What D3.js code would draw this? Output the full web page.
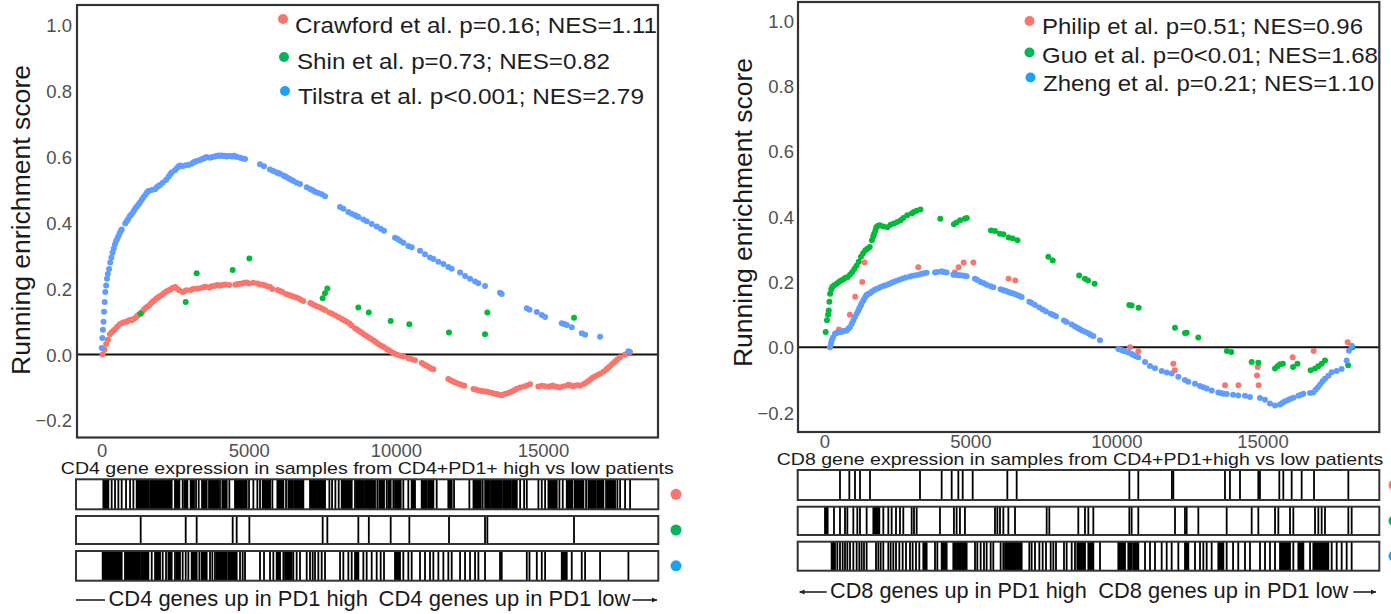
<!DOCTYPE html>
<html>
<head>
<meta charset="utf-8">
<script src="https://cdn.jsdelivr.net/npm/d3@7/dist/d3.min.js"></script>
<style>
  html, body { margin: 0; padding: 0; background: #fff; }
  svg { display: block; font-family: "Liberation Sans", Arial, sans-serif; }
</style>
</head>
<body>
<svg id="chart" width="1391" height="614"></svg>
<script>
// ---------- shared axis ticks ----------
const xTicks = [0, 5000, 10000, 15000];
const yTicks = [-0.2, 0, 0.2, 0.4, 0.6, 0.8, 1.0];

// ---------- CD4 panel ----------
const cd4Labels = ["Crawford et al. p=0.16; NES=1.11", "Shin et al. p=0.73; NES=0.82", "Tilstra et al. p<0.001; NES=2.79"];

// running enrichment score at each hit: [rank, score]
const crawfordES = [[30,0.0],[90,0.015],[150,0.032],[210,0.045],[280,0.062],[340,0.068],[400,0.072],[460,0.078],[530,0.085],[620,0.093],[700,0.096],[760,0.098],[840,0.1],[900,0.103],[960,0.105],[1020,0.104],[1076,0.108],[1150,0.112],[1210,0.118],[1260,0.121],[1320,0.125],[1380,0.13],[1440,0.137],[1500,0.142],[1560,0.146],[1620,0.15],[1680,0.156],[1740,0.161],[1800,0.165],[1860,0.17],[1920,0.174],[1980,0.177],[2040,0.181],[2100,0.185],[2160,0.189],[2220,0.192],[2280,0.195],[2340,0.198],[2400,0.202],[2500,0.205],[2560,0.2],[2639,0.195],[2752,0.19],[2820,0.192],[2880,0.195],[3030,0.196],[3100,0.199],[3206,0.2],[3297,0.201],[3410,0.203],[3470,0.205],[3540,0.206],[3660,0.204],[3720,0.207],[3800,0.208],[3880,0.21],[3950,0.211],[4021,0.209],[4110,0.211],[4200,0.213],[4339,0.211],[4540,0.212],[4620,0.214],[4700,0.215],[4780,0.216],[4860,0.218],[4928,0.219],[5008,0.216],[5155,0.218],[5291,0.216],[5382,0.213],[5480,0.212],[5560,0.21],[5640,0.207],[5722,0.205],[5801,0.199],[5980,0.196],[6060,0.193],[6140,0.19],[6266,0.184],[6350,0.182],[6430,0.179],[6510,0.176],[6600,0.174],[6700,0.17],[6780,0.166],[6854,0.163],[7090,0.157],[7170,0.153],[7250,0.149],[7330,0.146],[7420,0.143],[7500,0.139],[7591,0.135],[7739,0.128],[7830,0.124],[7943,0.119],[8056,0.113],[8158,0.108],[8240,0.104],[8330,0.1],[8420,0.094],[8498,0.088],[8611,0.08],[8680,0.076],[8760,0.071],[8840,0.066],[8920,0.061],[9000,0.056],[9080,0.052],[9160,0.047],[9240,0.043],[9300,0.039],[9369,0.034],[9440,0.03],[9520,0.026],[9596,0.022],[9687,0.017],[9760,0.013],[9823,0.009],[9913,0.005],[9980,0.002],[10060,-0.001],[10163,-0.004],[10253,-0.006],[10423,-0.011],[10540,-0.014],[10650,-0.017],[10880,-0.026],[10960,-0.03],[11040,-0.034],[11120,-0.038],[11200,-0.042],[11274,-0.045],[11783,-0.074],[11860,-0.078],[11940,-0.082],[12020,-0.085],[12100,-0.088],[12180,-0.09],[12260,-0.093],[12330,-0.095],[12637,-0.105],[12720,-0.106],[12800,-0.109],[12883,-0.11],[12950,-0.111],[13034,-0.112],[13110,-0.113],[13190,-0.115],[13270,-0.117],[13350,-0.119],[13430,-0.12],[13510,-0.122],[13590,-0.124],[13660,-0.121],[13740,-0.119],[13820,-0.117],[13900,-0.114],[13980,-0.111],[14050,-0.107],[14110,-0.104],[14223,-0.1],[14359,-0.097],[14450,-0.094],[14560,-0.09],[14844,-0.097],[14959,-0.095],[15072,-0.096],[15185,-0.098],[15260,-0.096],[15330,-0.094],[15400,-0.097],[15468,-0.098],[15558,-0.1],[15672,-0.097],[15808,-0.094],[15880,-0.092],[15950,-0.094],[16030,-0.096],[16110,-0.094],[16190,-0.093],[16260,-0.095],[16375,-0.09],[16465,-0.086],[16544,-0.08],[16620,-0.075],[16700,-0.07],[16780,-0.066],[16860,-0.062],[16940,-0.058],[17054,-0.052],[17145,-0.046],[17189,-0.042],[17260,-0.037],[17330,-0.031],[17400,-0.026],[17450,-0.021],[17529,-0.015],[17621,-0.008],[17791,0.0],[17961,0.008]];
const shinES = [[1325,0.125],[2855,0.16],[3228,0.247],[4452,0.257],[5019,0.292],[7511,0.171],[7590,0.186],[7670,0.201],[8724,0.143],[9080,0.128],[9823,0.102],[10457,0.092],[11806,0.067],[13030,0.062],[13109,0.128],[16055,0.112]];
const tilstraES = [[0,0.02],[20,0.05],[40,0.075],[60,0.1],[80,0.13],[100,0.16],[120,0.19],[150,0.21],[180,0.23],[210,0.245],[250,0.26],[290,0.28],[330,0.295],[370,0.31],[410,0.322],[450,0.335],[490,0.345],[530,0.352],[570,0.36],[610,0.368],[650,0.376],[679,0.38],[800,0.398],[850,0.405],[900,0.412],[950,0.42],[1000,0.425],[1050,0.43],[1100,0.438],[1150,0.445],[1200,0.45],[1250,0.456],[1302,0.462],[1360,0.47],[1420,0.478],[1480,0.485],[1540,0.492],[1586,0.497],[1700,0.5],[1813,0.502],[1870,0.508],[1930,0.512],[1983,0.515],[2073,0.522],[2186,0.53],[2270,0.54],[2330,0.548],[2378,0.553],[2491,0.56],[2550,0.566],[2610,0.571],[2661,0.574],[2752,0.572],[2855,0.575],[2945,0.576],[3060,0.58],[3120,0.584],[3180,0.586],[3228,0.588],[3319,0.59],[3400,0.593],[3460,0.596],[3520,0.598],[3568,0.6],[3681,0.598],[3761,0.6],[3851,0.602],[3910,0.603],[3970,0.605],[4030,0.604],[4090,0.605],[4150,0.603],[4210,0.604],[4248,0.602],[4310,0.603],[4370,0.603],[4430,0.602],[4490,0.604],[4540,0.602],[4588,0.601],[4701,0.598],[4792,0.596],[4871,0.594],[5381,0.578],[5517,0.572],[5721,0.562],[5834,0.558],[5948,0.553],[6010,0.551],[6062,0.549],[6175,0.544],[6232,0.542],[6300,0.538],[6380,0.534],[6458,0.53],[6514,0.527],[6627,0.522],[6741,0.518],[6968,0.508],[7081,0.503],[7172,0.499],[7251,0.495],[7364,0.491],[7478,0.487],[7591,0.481],[8101,0.448],[8214,0.443],[8384,0.433],[8498,0.428],[8611,0.423],[8680,0.42],[8724,0.418],[8894,0.41],[9007,0.405],[9177,0.397],[9347,0.389],[9483,0.382],[9596,0.376],[9970,0.355],[10060,0.351],[10140,0.346],[10253,0.34],[10423,0.33],[10537,0.326],[10820,0.315],[10990,0.305],[11160,0.295],[11274,0.29],[11444,0.282],[11614,0.275],[11783,0.266],[11897,0.261],[12181,0.249],[12351,0.239],[12521,0.23],[12691,0.222],[12804,0.217],[13030,0.208],[13540,0.188],[13597,0.184],[14450,0.141],[14541,0.136],[14790,0.129],[14959,0.12],[15072,0.114],[15638,0.095],[15720,0.093],[15808,0.09],[15978,0.083],[16318,0.065],[16431,0.06],[16941,0.054],[17904,0.01]];

// gene-set hit positions along the ranked list; [start, end] marks a dense run of hits
const crawfordHits = [[56,226],339,453,566,679,827,963,1076,[1188,1600],[1650,1950],[1990,2378],[2491,2639],2752,[2809,2911],[3024,3137],3206,3297,3410,[3455,3568],[3647,3965],4021,[4101,4248],4339,[4531,4928],5008,5155,5291,5382,[5473,5722],5801,[5971,6175],6266,[6345,6500],[6550,6700],[6740,6854],[7081,7300],[7350,7591],7739,7830,7943,8056,[8158,8498],8611,[8668,8900],[8950,9290],9369,[9437,9596],9687,[9743,9823],9913,[9970,10163],10253,10423,[10537,10650],[10877,11050],[11100,11274],11387,[11783,11897],11977,12497,[12637,12883],12950,[13034,13200],[13260,13600],[13650,13900],[13950,14110],14223,14359,14450,14844,14959,15072,[15185,15468],15558,15672,[15808,16000],[16080,16375],16465,[16544,16800],[16860,17054],17145,[17189,17450],17529,17621,17791,17961];
const shinHits = [1325,2855,3228,4452,4588,5019,7511,7670,8724,9080,9823,10457,11806,13030,13109,16055];
const tilstraHits = [[33,679],[792,1302],[1359,1586],1700,1813,[1870,1983],2073,2186,[2266,2378],2491,[2548,2661],2752,2855,2945,[3058,3228],3319,[3398,3568],3681,3761,3851,[3908,4248],[4305,4588],4701,4792,4871,5381,5517,5721,5834,[5948,6062],6175,[6232,6458],6514,6627,6741,6968,7081,7172,7251,7364,7478,7591,8101,8214,8384,8498,[8611,8724],8894,9007,9177,9347,9483,9596,[9970,10140],10253,10423,10537,10820,10990,11160,11274,11444,11614,11783,11897,12181,12351,12521,12691,12804,13030,13540,13597,14450,14541,14790,14959,15072,[15638,15808],15978,16318,16431,16941,17904];

// ---------- CD8 panel ----------
const cd8Labels = ["Philip et al. p=0.51; NES=0.96", "Guo et al. p=0<0.01; NES=1.68", "Zheng et al. p=0.21; NES=1.10"];

const philipES = [[500,0.055],[876,0.1],[1058,0.155],[1300,0.2],[1380,0.26],[3218,0.245],[4018,0.232],[4470,0.23],[4600,0.245],[4772,0.26],[5104,0.26],[6309,0.21],[6539,0.205],[10466,0.0],[10751,-0.012],[11948,-0.05],[12000,-0.07],[13717,-0.116],[14180,-0.116],[14813,-0.086],[14840,-0.06],[14870,-0.116],[16035,-0.03],[16754,-0.011],[17918,0.016]];
const guoES = [[47,0.047],[92,0.083],[130,0.1],[152,0.113],[175,0.14],[198,0.164],[240,0.178],[273,0.185],[340,0.19],[424,0.195],[500,0.2],[575,0.205],[650,0.208],[709,0.212],[801,0.215],[880,0.222],[952,0.23],[1030,0.24],[1103,0.25],[1180,0.262],[1254,0.277],[1330,0.288],[1405,0.297],[1480,0.302],[1556,0.307],[1632,0.328],[1680,0.34],[1707,0.348],[1750,0.358],[1783,0.368],[1840,0.372],[1903,0.374],[2021,0.37],[2160,0.368],[2270,0.375],[2386,0.379],[2500,0.384],[2613,0.389],[2705,0.396],[2839,0.404],[2991,0.41],[3065,0.414],[3162,0.418],[3292,0.422],[3971,0.394],[4438,0.377],[4530,0.382],[4650,0.389],[4815,0.394],[4877,0.396],[5707,0.358],[5843,0.356],[6009,0.348],[6130,0.346],[6311,0.336],[6450,0.333],[6613,0.328],[7669,0.277],[7820,0.266],[8726,0.22],[8924,0.21],[9028,0.205],[9254,0.195],[10443,0.13],[10522,0.128],[10763,0.121],[12006,0.06],[12348,0.044],[12405,0.045],[12805,0.03],[13782,-0.011],[13933,-0.014],[14631,-0.045],[14859,-0.047],[15430,-0.065],[15518,-0.058],[15600,-0.052],[15700,-0.05],[16046,-0.06],[16197,-0.05],[16650,-0.07],[16800,-0.065],[16913,-0.058],[17027,-0.05],[17141,-0.04],[17932,-0.055],[18083,0.0]];
const zhengES = [[195,0.0],[230,0.012],[253,0.021],[300,0.03],[366,0.042],[420,0.044],[480,0.046],[537,0.047],[600,0.048],[650,0.05],[709,0.051],[766,0.052],[830,0.058],[880,0.062],[940,0.072],[994,0.082],[1050,0.093],[1108,0.103],[1160,0.112],[1199,0.12],[1250,0.128],[1279,0.134],[1330,0.142],[1359,0.147],[1410,0.155],[1450,0.16],[1500,0.163],[1560,0.166],[1620,0.17],[1700,0.175],[1770,0.178],[1850,0.181],[1930,0.185],[2021,0.188],[2100,0.19],[2192,0.193],[2272,0.196],[2363,0.2],[2455,0.203],[2569,0.207],[2683,0.211],[2797,0.214],[2934,0.217],[3025,0.219],[3139,0.221],[3253,0.223],[3340,0.225],[3420,0.227],[3504,0.228],[3790,0.229],[3870,0.231],[4018,0.232],[4100,0.231],[4189,0.229],[4417,0.222],[4500,0.222],[4580,0.221],[4650,0.221],[4720,0.22],[4800,0.219],[4873,0.218],[5159,0.21],[5238,0.206],[5353,0.2],[5467,0.196],[5558,0.192],[5695,0.187],[5786,0.184],[6037,0.178],[6128,0.175],[6200,0.173],[6280,0.17],[6360,0.168],[6440,0.166],[6520,0.163],[6600,0.16],[6680,0.157],[6757,0.154],[7019,0.14],[7099,0.136],[7213,0.13],[7362,0.122],[7476,0.116],[7590,0.11],[7750,0.103],[7841,0.099],[7932,0.095],[8206,0.082],[8297,0.078],[8470,0.07],[8582,0.064],[8661,0.06],[8740,0.056],[8820,0.052],[8925,0.048],[9039,0.043],[9120,0.039],[9210,0.035],[9438,0.022],[10066,-0.005],[10150,-0.007],[10230,-0.01],[10294,-0.012],[10408,-0.016],[10522,-0.02],[10580,-0.023],[10660,-0.027],[10750,-0.03],[10979,-0.045],[11150,-0.057],[11321,-0.064],[11550,-0.072],[11721,-0.077],[11892,-0.08],[12120,-0.09],[12348,-0.1],[12462,-0.105],[12691,-0.111],[12862,-0.118],[12976,-0.122],[13090,-0.126],[13261,-0.132],[13489,-0.138],[13580,-0.14],[13661,-0.142],[13775,-0.143],[13993,-0.145],[14172,-0.147],[14402,-0.148],[14573,-0.152],[14915,-0.155],[15087,-0.16],[15258,-0.172],[15430,-0.178],[15601,-0.175],[15680,-0.17],[15760,-0.166],[15860,-0.162],[15943,-0.158],[16057,-0.154],[16229,-0.148],[16320,-0.145],[16400,-0.142],[16629,-0.14],[16742,-0.138],[16820,-0.13],[16900,-0.122],[16980,-0.113],[17060,-0.104],[17140,-0.096],[17255,-0.087],[17370,-0.076],[17541,-0.072],[17712,-0.066],[17883,-0.04],[17960,-0.01],[18054,0.005]];

const philipHits = [537,857,1051,1222,1565,3276,4018,4361,4589,4738,5080,6266,6586,10444,10750,11900,11950,13717,13888,14231,14858,14915,15577,15714,16000,16342,16765,17940];
const guoHits = [[24,115],332,537,709,789,994,1131,1222,1450,[1679,1884],2021,2192,2306,2455,2591,2705,2991,3071,3162,3960,4438,4530,4644,4815,5843,5924,6015,6130,6301,6529,7613,7704,8696,8924,9039,9210,10443,10522,10750,12006,12348,12405,12805,13775,14631,14859,15430,15544,15943,16057,16799,16913,17027,17141,17940,18054];
const zhengHits = [[252,366],446,537,629,709,789,880,994,1108,1199,1279,1359,1450,1770,1850,1930,2021,2192,2272,2363,2455,2569,2683,2797,2934,3025,3139,3253,[3390,3504],3790,3870,[4018,4189],[4417,4873],5159,5238,5353,5467,5558,5695,5786,6037,6128,[6188,6757],7019,7099,7213,7362,7476,7590,7750,7841,7932,8206,8297,8470,8582,[8661,8925],[9039,9210],9438,[10066,10294],[10408,10522],[10580,10750],10979,11150,11321,11550,11721,11892,12120,[12348,12462],12691,12862,12976,13090,13261,[13489,13661],13775,13993,14172,14402,14573,14915,15087,15258,15430,[15601,15943],16057,[16229,16400],16629,[16742,17255],17370,17541,17712,17883,18054];

// ---------- styling ----------
const pointColors = ["#F8766D", "#00BA38", "#619CFF"];
const keyColors = ["#F8766D", "#00B55A", "#1AA3F5"];
const FONT = '"Liberation Sans", Arial, sans-serif';

const svg = d3.select("#chart");

function drawPanel(cfg) {
  const g = svg.append("g");
  const x = d3.scaleLinear().domain(cfg.xDomain).range([cfg.left, cfg.right]);
  const y = d3.scaleLinear().domain(cfg.yDomain).range([cfg.bottom, cfg.top]);

  // axis tick labels (no tick marks)
  const yAxis = d3.axisLeft(y).tickValues(yTicks).tickFormat(d3.format(".1f")).tickSize(0).tickPadding(cfg.yPad);
  const ya = g.append("g").attr("transform", `translate(${cfg.left},0)`).call(yAxis);
  ya.select(".domain").remove();
  ya.selectAll("text").attr("font-family", FONT).attr("font-size", 18.5).attr("fill", "#505050")
    .attr("dy", "0.35em");

  const xAxis = d3.axisBottom(x).tickValues(xTicks).tickFormat(d3.format("d")).tickSize(0).tickPadding(0);
  const xa = g.append("g").attr("transform", `translate(0,${cfg.xLabelY})`).call(xAxis);
  xa.select(".domain").remove();
  xa.selectAll("text").attr("font-family", FONT).attr("font-size", 18.5).attr("fill", "#505050")
    .attr("y", 0).attr("dy", "0.35em");

  // zero line
  g.append("line").attr("x1", cfg.left).attr("x2", cfg.right)
    .attr("y1", y(0)).attr("y2", y(0)).attr("stroke", "#111").attr("stroke-width", 2);

  // running score points
  cfg.es.forEach((pts, i) => {
    g.append("g").selectAll("circle").data(pts).join("circle")
      .attr("cx", d => x(d[0])).attr("cy", d => y(d[1])).attr("r", 3)
      .attr("fill", pointColors[i]);
  });

  // panel frame
  g.append("rect").attr("x", cfg.left).attr("y", cfg.top)
    .attr("width", cfg.right - cfg.left).attr("height", cfg.bottom - cfg.top)
    .attr("fill", "none").attr("stroke", "#333").attr("stroke-width", 2.2);

  // y title
  g.append("text").attr("transform", `translate(${cfg.yTitle[0]},${cfg.yTitle[1]}) rotate(-90)`)
    .attr("text-anchor", "middle").attr("dominant-baseline", "central")
    .attr("font-family", FONT).attr("font-size", 26).attr("fill", "#1a1a1a")
    .attr("textLength", cfg.yTitleLen).attr("lengthAdjust", "spacingAndGlyphs")
    .text("Running enrichment score");

  // legend
  cfg.labels.forEach((lab, i) => {
    const row = cfg.legend[i];
    g.append("circle").attr("cx", row.dx).attr("cy", row.dy).attr("r", 5).attr("fill", keyColors[i]);
    g.append("text").attr("x", row.tx).attr("y", row.ty).attr("dominant-baseline", "central")
      .attr("font-family", FONT).attr("font-size", 22).attr("fill", "#1e1e1e")
      .attr("textLength", row.len).attr("lengthAdjust", "spacingAndGlyphs").text(lab);
  });

  // x title
  g.append("text").attr("x", cfg.xTitle[0]).attr("y", cfg.xTitle[1])
    .attr("text-anchor", "middle").attr("dominant-baseline", "central")
    .attr("font-family", FONT).attr("font-size", 17).attr("fill", "#1a1a1a")
    .attr("textLength", cfg.xTitleLen).attr("lengthAdjust", "spacingAndGlyphs")
    .text(cfg.xTitleText);

  // barcode rows
  cfg.hits.forEach((hits, i) => {
    const [y0, y1] = cfg.rows[i];
    const row = g.append("g");
    row.append("rect").attr("x", cfg.barLeft).attr("y", y0).attr("width", cfg.barRight - cfg.barLeft)
      .attr("height", y1 - y0).attr("fill", "#fff");
    row.selectAll("rect.hit").data(hits).join("rect").attr("class", "hit")
      .attr("x", d => Array.isArray(d) ? x(d[0]) - 0.9 : x(d) - 0.9)
      .attr("width", d => Array.isArray(d) ? x(d[1]) - x(d[0]) + 1.8 : 1.8)
      .attr("y", y0).attr("height", y1 - y0).attr("fill", "#000");
    row.append("rect").attr("x", cfg.barLeft).attr("y", y0).attr("width", cfg.barRight - cfg.barLeft)
      .attr("height", y1 - y0).attr("fill", "none").attr("stroke", "#333").attr("stroke-width", 2);
    g.append("circle").attr("cx", cfg.sideDotX).attr("cy", (y0 + y1) / 2).attr("r", 5.5)
      .attr("fill", keyColors[i]);
  });

  // direction labels
  const b = cfg.bottomText;
  b.texts.forEach(t => {
    g.append("text").attr("x", t.x).attr("y", b.y).attr("dominant-baseline", "central")
      .attr("font-family", FONT).attr("font-size", 21.5).attr("fill", "#1a1a1a")
      .attr("textLength", t.len).attr("lengthAdjust", "spacingAndGlyphs").text(t.s);
  });
  b.arrows.forEach(a => {
    g.append("line").attr("x1", a.x1).attr("x2", a.x2).attr("y1", b.y + 1).attr("y2", b.y + 1)
      .attr("stroke", "#222").attr("stroke-width", 1.6);
    if (a.head) {
      const dir = Math.sign(a.x2 - a.x1);
      g.append("path")
        .attr("d", `M${a.x2},${b.y + 1} l${-dir * 5},-2.5 l0,5 z`)
        .attr("fill", "#222");
    }
  });
}

drawPanel({
  xDomain: [-840, 18910], yDomain: [-0.252, 1.062],
  left: 77, right: 658, top: 5, bottom: 437.5,
  yPad: 5, xLabelY: 450.5,
  es: [crawfordES, shinES, tilstraES],
  hits: [crawfordHits, shinHits, tilstraHits],
  labels: cd4Labels,
  legend: [
    {dx: 283, dy: 19, tx: 295, ty: 25, len: 362},
    {dx: 284, dy: 57, tx: 297, ty: 61, len: 313},
    {dx: 285, dy: 91, tx: 298, ty: 96, len: 346}
  ],
  yTitle: [20.5, 220], yTitleLen: 310,
  xTitle: [367.3, 468], xTitleLen: 613,
  xTitleText: "CD4 gene expression in samples from CD4+PD1+ high vs low patients",
  barLeft: 76, barRight: 658.3,
  rows: [[479.3, 509.3], [516, 544], [551, 580.7]],
  sideDotX: 676,
  bottomText: {
    y: 599,
    texts: [{x: 108.5, len: 259.5, s: "CD4 genes up in PD1 high"}, {x: 378.6, len: 251.8, s: "CD4 genes up in PD1 low"}],
    arrows: [{x1: 105, x2: 76, head: false}, {x1: 632.5, x2: 657, head: true}]
  }
});

drawPanel({
  xDomain: [-900, 19000], yDomain: [-0.259, 1.057],
  left: 798, right: 1379.3, top: 2, bottom: 432,
  yPad: 4, xLabelY: 441.5,
  es: [philipES, guoES, zhengES],
  hits: [philipHits, guoHits, zhengHits],
  labels: cd8Labels,
  legend: [
    {dx: 1029.5, dy: 21, tx: 1042, ty: 26.5, len: 321},
    {dx: 1029.5, dy: 52.5, tx: 1042, ty: 55, len: 336},
    {dx: 1030.5, dy: 77.5, tx: 1043, ty: 83, len: 331}
  ],
  yTitle: [743, 212.5], yTitleLen: 309,
  xTitle: [1080, 459.5], xTitleLen: 606.6,
  xTitleText: "CD8 gene expression in samples from CD4+PD1+high vs low patients",
  barLeft: 797.7, barRight: 1379.3,
  rows: [[470, 500], [506.7, 535], [541.7, 570.7]],
  sideDotX: 1394,
  bottomText: {
    y: 591,
    texts: [{x: 830, len: 256.7, s: "CD8 genes up in PD1 high"}, {x: 1098.3, len: 250, s: "CD8 genes up in PD1 low"}],
    arrows: [{x1: 826.7, x2: 799.5, head: true}, {x1: 1353.3, x2: 1376, head: true}]
  }
});
</script>
</body>
</html>
